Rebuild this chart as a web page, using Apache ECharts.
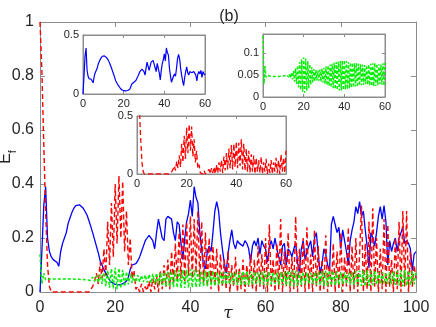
<!DOCTYPE html>
<html>
<head>
<meta charset="utf-8">
<script src="https://cdn.jsdelivr.net/npm/echarts@6/dist/echarts.min.js"></script>
<style>
html, body { margin: 0; padding: 0; background: #fff; }
#chart { width: 436px; height: 327px; }
</style>
</head>
<body>
<div id="chart"></div>
<script>
// sample spacing in tau
var dt = 0.5;

// blue: solid curve
var blueE = [
  0, 0.15, 0.32, 0.39, 0.2, 0.15, 0.13, 0.12, 0.125, 0.11,
  0.095, 0.15, 0.18, 0.2, 0.22, 0.255, 0.275, 0.295, 0.31, 0.32,
  0.325, 0.323, 0.318, 0.31, 0.298, 0.285, 0.265, 0.243, 0.22, 0.195,
  0.17, 0.145, 0.115, 0.1, 0.082, 0.07, 0.057, 0.045, 0.036, 0.032,
  0.028, 0.027, 0.026, 0.027, 0.03, 0.032, 0.04, 0.055, 0.085, 0.1,
  0.1, 0.105, 0.115, 0.13, 0.15, 0.17, 0.19, 0.2, 0.21, 0.205,
  0.19, 0.16, 0.22, 0.27, 0.27, 0.2, 0.19, 0.27, 0.28, 0.285,
  0.27, 0.22, 0.19, 0.26, 0.25, 0.18, 0.12, 0.2, 0.26, 0.29,
  0.34, 0.28, 0.39, 0.35, 0.33, 0.22, 0.155, 0.1, 0.085, 0.15,
  0.17, 0.15, 0.22, 0.3, 0.335, 0.3, 0.22, 0.16, 0.11, 0.07,
  0.14, 0.19, 0.23, 0.18, 0.16, 0.19, 0.18, 0.18, 0.17, 0.19,
  0.18, 0.16, 0.11, 0.17, 0.19, 0.17, 0.2, 0.14, 0.19, 0.17,
  0.16, 0.11, 0.17, 0.19, 0.16, 0.2, 0.16, 0.13, 0.1, 0.17,
  0.18, 0.1, 0.16, 0.15, 0.13, 0.16, 0.18, 0.11, 0.07, 0.16,
  0.19, 0.12, 0.15, 0.17, 0.19, 0.13, 0.2, 0.22, 0.14, 0.07,
  0.1, 0.16, 0.14, 0.1, 0.08, 0.25, 0.28, 0.25, 0.22, 0.24,
  0.16, 0.23, 0.19, 0.15, 0.1, 0.19, 0.23, 0.26, 0.316, 0.29,
  0.335, 0.28, 0.3, 0.23, 0.17, 0.09, 0.22, 0.2, 0.17, 0.22,
  0.28, 0.316, 0.27, 0.32, 0.26, 0.1, 0.19, 0.15, 0.18, 0.2,
  0.15, 0.2, 0.22, 0.24, 0.18, 0.19, 0.18, 0.16, 0.08, 0.14,
  0.15
];

// red: dashed curve
var redE = [
  1.0, 0.82, 0.55, 0.3, 0.1, 0.02, 0, 0, 0, 0,
  0, 0, 0, 0, 0, 0, 0, 0, 0, 0,
  0, 0, 0, 0, 0, 0, 0, 0.005, 0.02, 0.04,
  0.07, 0.03, 0.11, 0.05, 0.16, 0.06, 0.26, 0.1, 0.33, 0.13,
  0.4, 0.18, 0.43, 0.2, 0.41, 0.15, 0.3, 0.1, 0.2, 0.05,
  0.08, 0.01, 0.02, 0, 0.03, 0, 0.02, 0.005, 0.04, 0,
  0.05, 0.01, 0.06, 0, 0.08, 0.01, 0.1, 0.02, 0.12, 0.01,
  0.15, 0.03, 0.18, 0.04, 0.22, 0.05, 0.25, 0.04, 0.26, 0.06,
  0.28, 0.05, 0.27, 0.07, 0.3, 0.04, 0.26, 0.03, 0.22, 0.02,
  0.2, 0.01, 0.17, 0.02, 0.16, 0, 0.14, 0.02, 0.12, 0.01,
  0.15, 0, 0.1, 0.02, 0.13, 0, 0.09, 0.01, 0.12, 0,
  0.1, 0.02, 0.14, 0.01, 0.12, 0, 0.17, 0.02, 0.14, 0.01,
  0.2, 0, 0.25, 0.02, 0.12, 0, 0.18, 0.01, 0.27, 0,
  0.15, 0.02, 0.22, 0, 0.13, 0.01, 0.28, 0, 0.16, 0.02,
  0.2, 0, 0.24, 0.01, 0.14, 0, 0.23, 0.02, 0.17, 0,
  0.12, 0.01, 0.21, 0, 0.1, 0.02, 0.18, 0, 0.15, 0.01,
  0.22, 0, 0.13, 0.02, 0.24, 0, 0.17, 0.01, 0.2, 0,
  0.14, 0.32, 0, 0.18, 0.01, 0.26, 0, 0.31, 0.02, 0.2,
  0, 0.16, 0.01, 0.27, 0, 0.25, 0.02, 0.12, 0, 0.2,
  0.01, 0.26, 0, 0.3, 0.02, 0.3, 0, 0.15, 0.02, 0.1,
  0.05
];

// green: dotted curve
var greenE = [
  0.14, 0.03, 0.07, 0.045, 0.05, 0.048, 0.048, 0.048, 0.048, 0.048,
  0.047, 0.048, 0.047, 0.048, 0.047, 0.048, 0.047, 0.048, 0.048, 0.047,
  0.048, 0.047, 0.049, 0.046, 0.05, 0.045, 0.052, 0.043, 0.055, 0.04,
  0.06, 0.035, 0.066, 0.03, 0.072, 0.022, 0.08, 0.016, 0.086, 0.012,
  0.09, 0.01, 0.088, 0.014, 0.082, 0.02, 0.075, 0.028, 0.068, 0.033,
  0.064, 0.036, 0.062, 0.038, 0.061, 0.037, 0.063, 0.035, 0.065, 0.033,
  0.067, 0.03, 0.07, 0.027, 0.072, 0.025, 0.074, 0.022, 0.076, 0.02,
  0.078, 0.018, 0.08, 0.016, 0.081, 0.015, 0.082, 0.015, 0.083, 0.016,
  0.084, 0.017, 0.082, 0.018, 0.08, 0.02, 0.079, 0.021, 0.078, 0.022,
  0.077, 0.024, 0.078, 0.023, 0.076, 0.026, 0.075, 0.027, 0.074, 0.028,
  0.073, 0.03, 0.072, 0.028, 0.074, 0.026, 0.076, 0.025, 0.077, 0.024,
  0.078, 0.025, 0.076, 0.027, 0.075, 0.03, 0.074, 0.028, 0.077, 0.026,
  0.078, 0.025, 0.075, 0.028, 0.073, 0.03, 0.072, 0.027, 0.074, 0.025,
  0.076, 0.024, 0.079, 0.022, 0.08, 0.021, 0.078, 0.023, 0.076, 0.026,
  0.074, 0.028, 0.072, 0.03, 0.071, 0.029, 0.073, 0.027, 0.075, 0.025,
  0.077, 0.023, 0.079, 0.022, 0.08, 0.024, 0.078, 0.026, 0.076, 0.027,
  0.074, 0.029, 0.073, 0.03, 0.072, 0.028, 0.074, 0.026, 0.077, 0.024,
  0.079, 0.022, 0.08, 0.021, 0.081, 0.023, 0.079, 0.025, 0.077, 0.027,
  0.075, 0.029, 0.073, 0.031, 0.072, 0.03, 0.074, 0.028, 0.076, 0.026,
  0.078, 0.024, 0.08, 0.022, 0.081, 0.023, 0.079, 0.025, 0.077, 0.028,
  0.075
];

var FONT = 'Liberation Sans';
var frameColor = '#8c8c8c';
var textColor = '#262626';

function pts(arr, upto) {
  var out = [];
  for (var i = 0; i < arr.length; i++) {
    var t = i * dt;
    if (upto != null && t > upto) break;
    out.push([t, arr[i]]);
  }
  return out;
}

// one side of a box frame (MATLAB style: ticks inside, labels only bottom/left)
function axis(g, min, max, step, pos, fs, tickLen, margin, z) {
  var labelled = (pos === 'bottom' || pos === 'left');
  return {
    type: 'value', gridIndex: g, min: min, max: max, interval: step,
    position: pos, z: z,
    axisLine: { show: true, onZero: false, lineStyle: { color: frameColor, width: 1 } },
    axisTick: { show: true, inside: true, length: tickLen, lineStyle: { color: frameColor } },
    axisLabel: { show: labelled, fontSize: fs, color: textColor, fontFamily: FONT, margin: margin },
    splitLine: { show: false }
  };
}

var grids = [
  { left: 40, right: 20, top: 22, bottom: 35 },
  { left: 83, top: 35, width: 122, height: 59 },
  { left: 263, top: 34, width: 122, height: 63 },
  { left: 137, top: 116, width: 149, height: 58 }
];
for (var k = 0; k < grids.length; k++) {
  grids[k].outerBoundsMode = 'none';
  grids[k].containLabel = false;
  if (k > 0) {
    grids[k].show = true;
    grids[k].backgroundColor = '#ffffff';
    grids[k].borderColor = frameColor;
    grids[k].borderWidth = 1;
    grids[k].z = 10;
  }
}

var xAxes = [], yAxes = [];
// main
xAxes.push(axis(0, 0, 100, 20, 'bottom', 16, 5, 8, 0));
xAxes.push(axis(0, 0, 100, 20, 'top', 16, 5, 8, 0));
var yMain = axis(0, 0, 1, 0.2, 'left', 16, 5, 6, 0);
yMain.name = '{e|E}{s|f}';
yMain.nameLocation = 'middle';
yMain.nameRotate = 90;
yMain.nameGap = 22;
yMain.nameMoveOverlap = false;
yMain.nameTextStyle = {
  color: textColor, fontFamily: FONT,
  rich: {
    e: { fontSize: 16, fontFamily: FONT, color: textColor, padding: [0, 0, 4, 0], verticalAlign: 'bottom' },
    s: { fontSize: 11, fontFamily: FONT, color: textColor, verticalAlign: 'bottom' }
  }
};
xAxes[0].name = 'τ';
xAxes[0].nameLocation = 'middle';
xAxes[0].nameGap = 13;
xAxes[0].nameMoveOverlap = false;
xAxes[0].nameTextStyle = { fontSize: 17, fontStyle: 'italic', color: textColor, fontFamily: 'DejaVu Serif' };
yAxes.push(yMain);
yAxes.push(axis(0, 0, 1, 0.2, 'right', 16, 5, 6, 0));

// insets
var insetY = [[0, 0.5, 0.5], [0, 0.144, 0.05], [0, 0.5, 0.5]];
for (var g = 1; g <= 3; g++) {
  xAxes.push(axis(g, 0, 60, 20, 'bottom', 11, 3, 4, 11));
  xAxes.push(axis(g, 0, 60, 20, 'top', 11, 3, 4, 11));
  var yl = axis(g, insetY[g - 1][0], insetY[g - 1][1], insetY[g - 1][2], 'left', 11, 3, 4, 11);
  yl.axisLabel.showMaxLabel = (g !== 2);
  yAxes.push(yl);
  yAxes.push(axis(g, insetY[g - 1][0], insetY[g - 1][1], insetY[g - 1][2], 'right', 11, 3, 4, 11));
}

function line(name, data, xi, yi, color, width, type, z) {
  return {
    name: name, type: 'line', xAxisIndex: xi, yAxisIndex: yi, data: data,
    showSymbol: false, symbol: 'none', animation: false, z: z,
    lineStyle: { color: color, width: width, type: type }
  };
}

var series = [
  line('blue', pts(blueE), 0, 0, '#0000ff', 1.3, 'solid', 2),
  line('red', pts(redE), 0, 0, '#ff0000', 1.4, [5, 3], 3),
  line('green', pts(greenE), 0, 0, '#00ee00', 1.5, [3, 2], 4),
  line('blueInset', pts(blueE, 60), 2, 2, '#0000ff', 1.2, 'solid', 12),
  line('greenInset', pts(greenE, 60), 4, 4, '#00ee00', 1.4, [3, 2], 12),
  line('redInset', pts(redE, 60), 6, 6, '#ff0000', 1.3, [5, 3], 12)
];

var chart = echarts.init(document.getElementById('chart'), null, { renderer: 'canvas' });
chart.setOption({
  animation: false,
  backgroundColor: '#ffffff',
  title: {
    text: '(b)', left: 224, top: 4, textAlign: 'center',
    textStyle: { fontSize: 16, fontWeight: 'normal', color: textColor, fontFamily: FONT }
  },
  grid: grids,
  xAxis: xAxes,
  yAxis: yAxes,
  series: series
});
</script>
</body>
</html>
